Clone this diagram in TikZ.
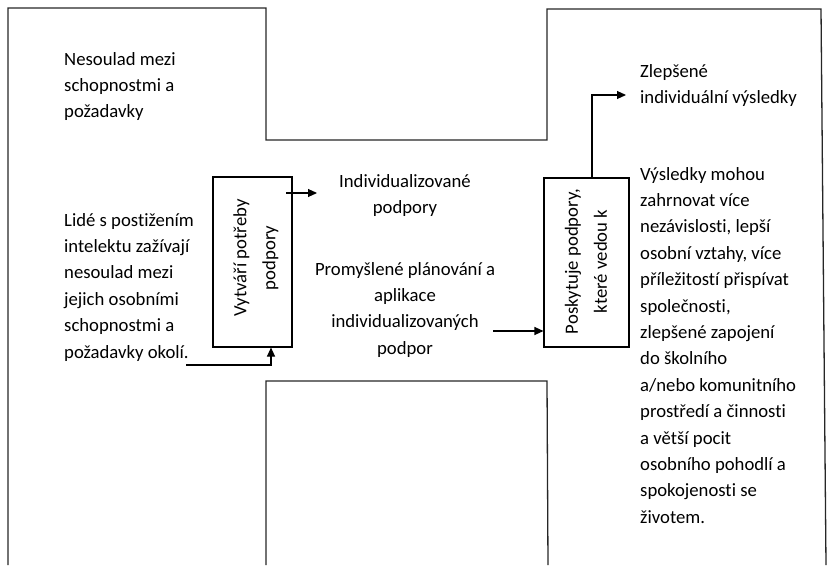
\documentclass[tikz,border=0pt]{standalone}
\usepackage{fontspec}
\setmainfont{Carlito}[Ligatures=NoCommon]
\usetikzlibrary{arrows.meta}
\begin{document}
\begin{tikzpicture}[x=1pt,y=-1pt,
  outline/.style={draw=black!85, line width=1.3pt, line join=miter},
  boxnode/.style={draw=black, line width=1.1pt, inner sep=0, fill=none},
  lbl/.style={inner sep=0, font=\fontsize{18.7}{26.4}\selectfont},
  rlbl/.style={inner sep=0, rotate=90, align=center, font=\fontsize{18.7}{29}\selectfont},
  arr/.style={draw=black, line width=1.1pt, -{Triangle[length=9pt,width=8pt]}}]
\useasboundingbox (0,0) rectangle (827,565);
% outlines
\draw[outline] (8,565) -- (8,8) -- (266,8) -- (266,140) -- (547,140) -- (547,9) -- (821,9) -- (826,565);
\draw[outline] (266,565) -- (266,381) -- (547,381) -- (548,565);
% boxes
\node[boxnode, minimum width=79pt, minimum height=170pt] (b1) at (252.5,262) {};
\node[boxnode, minimum width=85pt, minimum height=169pt] (b2) at (586.5,262.5) {};
\node[rlbl] (t1) at (256,258) {Vytváří potřeby\\podpory};
\node[rlbl] (t2) at (586,261.5) {Poskytuje podpory,\\které vedou k};
% texts
\node[lbl, anchor=base west] (nes) at (64,65) {\parbox[t]{200pt}{\raggedright Nesoulad mezi\\schopnostmi a\\požadavky}};
\node[lbl, anchor=base west] (lide) at (64,226) {\parbox[t]{200pt}{\raggedright Lidé s postižením\\intelektu zažívají\\nesoulad mezi\\jejich osobními\\schopnostmi a\\požadavky okolí.}};
\node[lbl, anchor=base] (ind) at (405,187) {\parbox[t]{200pt}{\centering Individualizované\\podpory}};
\node[lbl, anchor=base] (prom) at (405,275) {\parbox[t]{200pt}{\centering Promyšlené plánování a\\aplikace\\individualizovaných\\podpor}};
\node[lbl, anchor=base west] (zlep) at (640,77) {\parbox[t]{180pt}{\raggedright Zlepšené\\individuální výsledky}};
\node[lbl, anchor=base west] (vys) at (640,180) {\parbox[t]{180pt}{\raggedright Výsledky mohou\\zahrnovat více\\nezávislosti, lepší\\osobní vztahy, více\\příležitostí přispívat\\společnosti,\\zlepšené zapojení\\do školního\\a/nebo komunitního\\prostředí a činnosti\\a větší pocit\\osobního pohodlí a\\spokojenosti se\\životem.}};
% connectors
\coordinate (a1s) at (286,193);
\coordinate (a1e) at (317,193);
\draw[arr] (a1s) -- (a1e);
\coordinate (a2s) at (186,365);
\draw[arr] (a2s) -| ([xshift=18.5pt]b1.south);
\coordinate (a3s) at (493,331);
\draw[arr] (a3s) -- (a3s -| b2.west);
\coordinate (a4e) at (626,95);
\draw[arr] ([xshift=5.5pt]b2.north) |- (a4e);
\end{tikzpicture}
\end{document}
